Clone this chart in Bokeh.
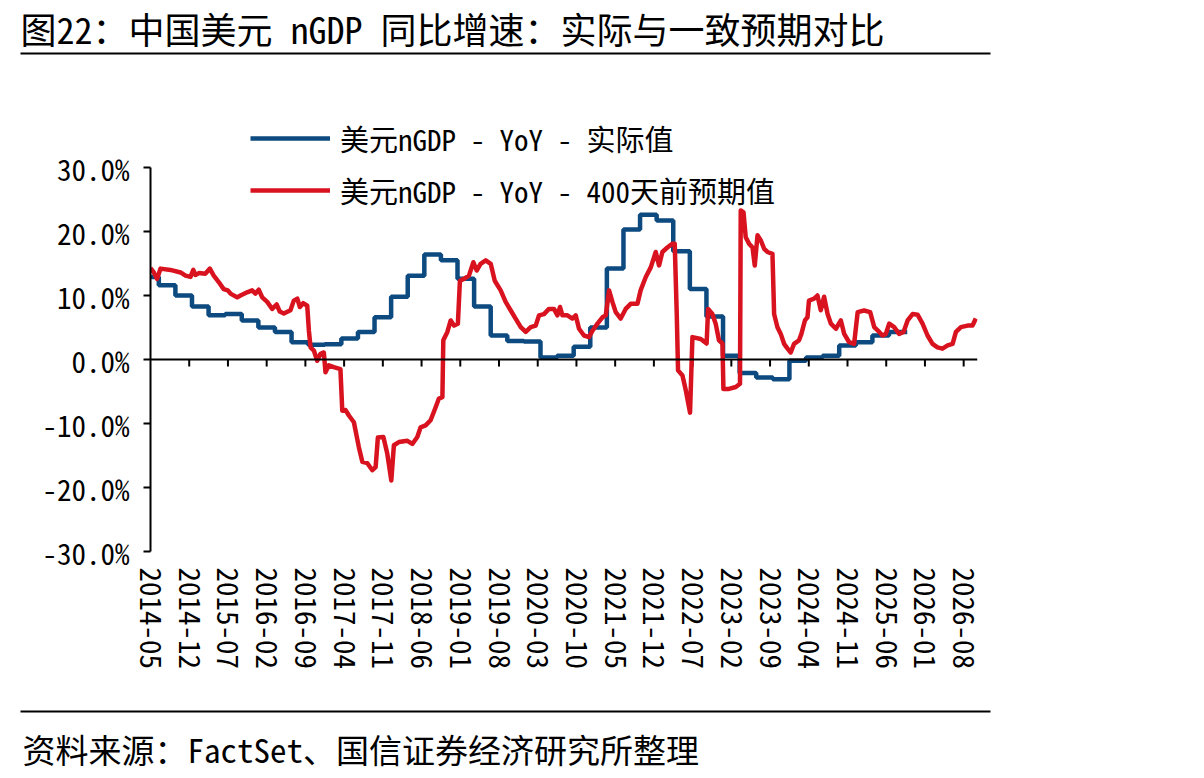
from bokeh.plotting import figure
from bokeh.layouts import column, row
from bokeh.models import (Range1d, FixedTicker, PrintfTickFormatter, Span,
                          Legend, LegendItem)
from bokeh.core.properties import value
from bokeh.embed import file_html
from bokeh.resources import INLINE

# ---------------- texts ----------------
title_text = "图22：中国美元 nGDP 同比增速：实际与一致预期对比"
source_text = "资料来源：FactSet、国信证券经济研究所整理"
name_actual = "美元nGDP - YoY - 实际值"
name_expected = "美元nGDP - YoY - 400天前预期值"

# ---------------- axes ----------------
x_tick_labels = ["2014-05", "2014-12", "2015-07", "2016-02", "2016-09", "2017-04",
                 "2017-11", "2018-06", "2019-01", "2019-08", "2020-03", "2020-10",
                 "2021-05", "2021-12", "2022-07", "2023-02", "2023-09", "2024-04",
                 "2024-11", "2025-06", "2026-01", "2026-08"]
y_ticks = [-30, -20, -10, 0, 10, 20, 30]

# ---------------- data (% YoY) ----------------
actual_dates = ["2014-05-01", "2014-06-16", "2014-09-16", "2014-12-16", "2015-03-16",
                "2015-06-16", "2015-09-16", "2015-12-16", "2016-03-16", "2016-06-16",
                "2016-09-16", "2016-12-16", "2017-03-16", "2017-06-16", "2017-09-16",
                "2017-12-16", "2018-03-16", "2018-06-16", "2018-09-16", "2018-12-16",
                "2019-03-16", "2019-06-16", "2019-09-16", "2019-12-16", "2020-03-16",
                "2020-06-16", "2020-09-16", "2020-12-16", "2021-03-16", "2021-06-16",
                "2021-09-16", "2021-12-16", "2022-03-16", "2022-06-16", "2022-09-16",
                "2022-12-16", "2023-03-16", "2023-06-16", "2023-09-16", "2023-12-16",
                "2024-03-16", "2024-06-16", "2024-09-16", "2024-12-16", "2025-03-16",
                "2025-06-16", "2025-09-25"]
actual_values = [12.9, 11.6, 10.0, 8.3, 6.9,
                 7.1, 6.1, 5.0, 4.3, 2.7,
                 2.3, 2.4, 3.3, 4.3, 6.6,
                 9.8, 13.1, 16.4, 15.5, 12.6,
                 8.3, 3.75, 2.9, 2.8, 0.3,
                 0.6, 2.0, 5.0, 14.2, 20.3,
                 22.6, 21.7, 16.9, 11.0, 6.7,
                 0.6, -2.1, -2.8, -3.1, -0.2,
                 0.3, 0.6, 2.2, 2.7, 3.75,
                 4.3, 4.3]

expected_dates = [
    "2014-05-01", "2014-05-19", "2014-06-07", "2014-06-25", "2014-08-19", "2014-10-14",
    "2014-11-11", "2014-12-08", "2014-12-23", "2015-01-05", "2015-01-23", "2015-02-28",
    "2015-03-23", "2015-04-14", "2015-05-11", "2015-06-08", "2015-06-30", "2015-07-15",
    "2015-08-21", "2015-09-09", "2015-10-15", "2015-11-12", "2015-11-30", "2015-12-18",
    "2016-01-07", "2016-02-04", "2016-03-01", "2016-03-25", "2016-04-12", "2016-05-04",
    "2016-06-10", "2016-06-28", "2016-07-17", "2016-08-01", "2016-08-19", "2016-09-11",
    "2016-09-20", "2016-09-29", "2016-10-17", "2016-11-05", "2016-11-23", "2016-12-11",
    "2016-12-20", "2017-01-08", "2017-02-05", "2017-03-11", "2017-03-21", "2017-04-09",
    "2017-04-27", "2017-05-24", "2017-06-21", "2017-07-10", "2017-08-07", "2017-09-04",
    "2017-09-22", "2017-10-04", "2017-11-04", "2017-11-25", "2017-12-17", "2018-01-01",
    "2018-01-28", "2018-03-14", "2018-04-11", "2018-05-08", "2018-05-26", "2018-06-23",
    "2018-07-20", "2018-08-17", "2018-09-05", "2018-09-24", "2018-09-29", "2018-10-21",
    "2018-11-09", "2018-11-27", "2018-12-18", "2018-12-29", "2019-01-21", "2019-02-18",
    "2019-03-12", "2019-03-30", "2019-04-21", "2019-05-19", "2019-06-16", "2019-07-08",
    "2019-08-10", "2019-09-07", "2019-10-04", "2019-11-01", "2019-11-29", "2019-12-26",
    "2020-01-23", "2020-02-20", "2020-03-08", "2020-04-05", "2020-05-02", "2020-05-29",
    "2020-06-18", "2020-07-02", "2020-07-15", "2020-08-12", "2020-09-09", "2020-09-27",
    "2020-10-15", "2020-11-12", "2020-12-09", "2020-12-28", "2021-01-25", "2021-02-22",
    "2021-03-10", "2021-03-28", "2021-04-16", "2021-05-04", "2021-06-01", "2021-06-28",
    "2021-07-25", "2021-09-02", "2021-09-19", "2021-10-17", "2021-11-14", "2021-12-11",
    "2021-12-29", "2022-01-17", "2022-02-14", "2022-03-12", "2022-03-24", "2022-04-05",
    "2022-04-12", "2022-05-06", "2022-05-24", "2022-06-17", "2022-06-30", "2022-08-15",
    "2022-09-17", "2022-09-25", "2022-10-18", "2022-11-06", "2022-11-24", "2022-12-13",
    "2022-12-18", "2023-01-18", "2023-02-25", "2023-03-18", "2023-03-22", "2023-04-07",
    "2023-04-19", "2023-05-07", "2023-05-26", "2023-06-08", "2023-06-23", "2023-07-11",
    "2023-07-29", "2023-08-17", "2023-09-14", "2023-09-23", "2023-10-11", "2023-10-29",
    "2023-11-17", "2023-12-06", "2023-12-23", "2024-01-11", "2024-02-08", "2024-02-21",
    "2024-03-10", "2024-03-24", "2024-04-02", "2024-04-30", "2024-05-18", "2024-06-06",
    "2024-06-24", "2024-07-13", "2024-07-31", "2024-08-28", "2024-09-25", "2024-10-13",
    "2024-11-10", "2024-12-07", "2024-12-26", "2025-02-01", "2025-03-04", "2025-03-26",
    "2025-04-23", "2025-05-11", "2025-05-29", "2025-06-17", "2025-07-14", "2025-08-11",
    "2025-09-05", "2025-09-27", "2025-10-24", "2025-11-21", "2025-12-18", "2026-01-15",
    "2026-02-12", "2026-03-09", "2026-04-06", "2026-05-04", "2026-06-01", "2026-06-19",
    "2026-07-16", "2026-08-22", "2026-09-19", "2026-10-07"]
expected_values = [
    14.3, 13.6, 12.6, 14.2, 14.0, 13.6,
    13.1, 12.9, 14.0, 13.2, 13.5, 13.4,
    14.2, 13.1, 12.1, 11.0, 10.8, 10.3,
    9.7, 10.0, 10.5, 10.8, 10.3, 10.9,
    9.7, 9.0, 7.9, 8.6, 7.5, 7.2,
    7.7, 9.2, 9.5, 8.2, 8.8, 8.4,
    4.5, 1.9, 1.4, -0.2, 0.9, 1.1,
    -2.0, -0.9, -1.2, -1.5, -8.0, -7.9,
    -8.75, -9.8, -13.7, -16.0, -16.2, -17.3,
    -16.8, -12.2, -12.1, -14.7, -18.9, -13.4,
    -12.9, -12.7, -13.2, -12.1, -10.6, -10.3,
    -9.5, -7.5, -6.1, -5.9, 3.0, 4.3,
    6.1, 5.3, 5.6, 12.3, 12.6, 13.1,
    15.2, 13.9, 14.95, 15.5, 14.95, 12.3,
    10.8, 9.0, 7.7, 6.4, 5.05, 4.3,
    5.05, 5.3, 6.9, 7.1, 7.9, 7.9,
    6.9, 8.2, 6.9, 6.9, 6.4, 6.9,
    4.8, 3.75, 3.5, 4.5, 5.6, 6.6,
    6.9, 10.8, 9.0, 7.4, 6.4, 7.9,
    8.7, 8.7, 10.8, 12.9, 14.4, 16.8,
    14.7, 16.8, 17.5, 18.1, 18.1, 7.1,
    -1.7, -2.5, -4.8, -8.3, 3.5, 3.2,
    2.5, 7.9, 7.1, 5.6, 3.0, 2.5,
    -4.6, -4.6, -4.3, -3.8, 23.3, 23.0,
    19.1, 18.1, 17.5, 14.7, 19.4, 18.6,
    17.3, 16.8, 16.5, 7.1, 5.05, 4.0,
    2.45, 1.7, 1.1, 2.45, 3.0, 4.0,
    6.1, 6.6, 9.2, 9.5, 10.0, 7.7,
    9.8, 7.1, 5.6, 4.8, 6.1, 4.0,
    2.7, 2.45, 7.4, 7.65, 7.4, 5.05,
    4.3, 3.75, 4.0, 5.6, 5.05, 4.0,
    4.3, 6.1, 7.1, 7.0, 5.6, 3.75,
    2.45, 1.9, 1.7, 2.2, 2.45, 4.3,
    5.05, 5.3, 5.3, 6.4]

# ---------------- styles / layout ----------------
BLUE = "#0D4A80"
RED = "#D9121F"
MONO = "Noto Sans Mono CJK SC"
W = 1204
HEAD_H, MAIN_H, FOOT_H = 70, 630, 78
# main figure frame (page pixels): left 150, right 977, top 110, bottom 551
FL, FR, FT, FB = 150, 977, 110, 551
PX_PER_PCT = 6.4
Y_TOP = 30 + (167 - FT) / PX_PER_PCT     # extra room above 30% for the legend


def month_index(s):
    parts = [int(v) for v in s.split("-")]
    y, m = parts[0], parts[1]
    d = parts[2] if len(parts) > 2 else 1
    return (y - 2014) * 12 + (m - 5) + (d - 1) / 30.0


def blank_fig(h):
    f = figure(width=W, height=h, output_backend="svg", toolbar_location=None,
               x_range=Range1d(0, W), y_range=Range1d(h, 0),
               min_border=0, min_border_left=0, min_border_right=0,
               min_border_top=0, min_border_bottom=0,
               background_fill_color="white", border_fill_color="white",
               outline_line_color=None)
    f.axis.visible = False
    f.grid.visible = False
    return f


xa = [month_index(s) for s in actual_dates]
xe = [month_index(s) for s in expected_dates]
x_ticks = [month_index(s) for s in x_tick_labels]

# ---------------- header ----------------
head = blank_fig(HEAD_H)
head.text(x=[20], y=[27], text=[title_text], text_font=value(MONO),
          text_font_size="36px", text_baseline="middle", text_align="left",
          text_color="black")
head.segment(x0=[20], y0=[53], x1=[990], y1=[53], line_color="black", line_width=2)

# ---------------- main chart ----------------
p = figure(width=W, height=MAIN_H, output_backend="svg", toolbar_location=None,
           x_range=Range1d(0, 149.5), y_range=Range1d(-30, Y_TOP),
           min_border_left=FL, min_border_right=W - FR,
           min_border_top=FT - HEAD_H, min_border_bottom=HEAD_H + MAIN_H - FB,
           background_fill_color="white", border_fill_color="white",
           outline_line_color=None)
p.grid.visible = False

ya = p.yaxis[0]
ya.ticker = FixedTicker(ticks=y_ticks)
ya.bounds = (-30, 30)
ya.formatter = PrintfTickFormatter(format="%.1f%%")
ya.axis_line_color = "black"
ya.axis_line_width = 2
ya.major_tick_line_color = "black"
ya.major_tick_line_width = 2
ya.major_tick_out = 7
ya.major_tick_in = 0
ya.minor_tick_line_color = None
ya.major_label_standoff = 14
ya.major_label_text_font = MONO
ya.major_label_text_font_size = "29px"
ya.major_label_text_color = "black"

xax = p.xaxis[0]
xax.ticker = FixedTicker(ticks=x_ticks)
xax.major_label_overrides = {t: lab for t, lab in zip(x_ticks, x_tick_labels)}
xax.axis_line_color = None
xax.major_tick_line_color = None
xax.minor_tick_line_color = None
xax.major_tick_out = 0
xax.major_tick_in = 0
xax.major_label_standoff = 16
xax.major_label_orientation = "vertical"
xax.major_label_text_font = MONO
xax.major_label_text_font_size = "29px"
xax.major_label_text_color = "black"

# zero line and its tick marks
p.add_layout(Span(location=0, dimension="width", line_color="black", line_width=2))
p.segment(x0=x_ticks[1:], y0=[0] * (len(x_ticks) - 1), x1=x_ticks[1:],
          y1=[-1.1] * (len(x_ticks) - 1), line_color="black", line_width=2)

r_act = p.step(xa, actual_values, mode="after", line_color=BLUE, line_width=4.5)
r_exp = p.line(xe, expected_values, line_color=RED, line_width=4.5, line_join="round")

legend = Legend(items=[LegendItem(label=name_actual, renderers=[r_act]),
                       LegendItem(label=name_expected, renderers=[r_exp])],
                location=(250 - FL, FB - 211), orientation="vertical",
                glyph_width=80, glyph_height=30, label_height=30, spacing=10,
                padding=0, margin=0, label_standoff=10,
                label_text_font=MONO, label_text_font_size="29px",
                label_text_color="black",
                border_line_color=None, background_fill_alpha=0)
p.add_layout(legend, "center")

# ---------------- footer ----------------
foot = blank_fig(FOOT_H)
foot.segment(x0=[20], y0=[11], x1=[990], y1=[11], line_color="black", line_width=2)
foot.text(x=[22], y=[48], text=[source_text], text_font=value(MONO),
          text_font_size="33px", text_baseline="middle", text_align="left",
          text_color="black")

page = column(row(head), p, row(foot), spacing=0)
open("out.html", "w").write(file_html(page, INLINE))
